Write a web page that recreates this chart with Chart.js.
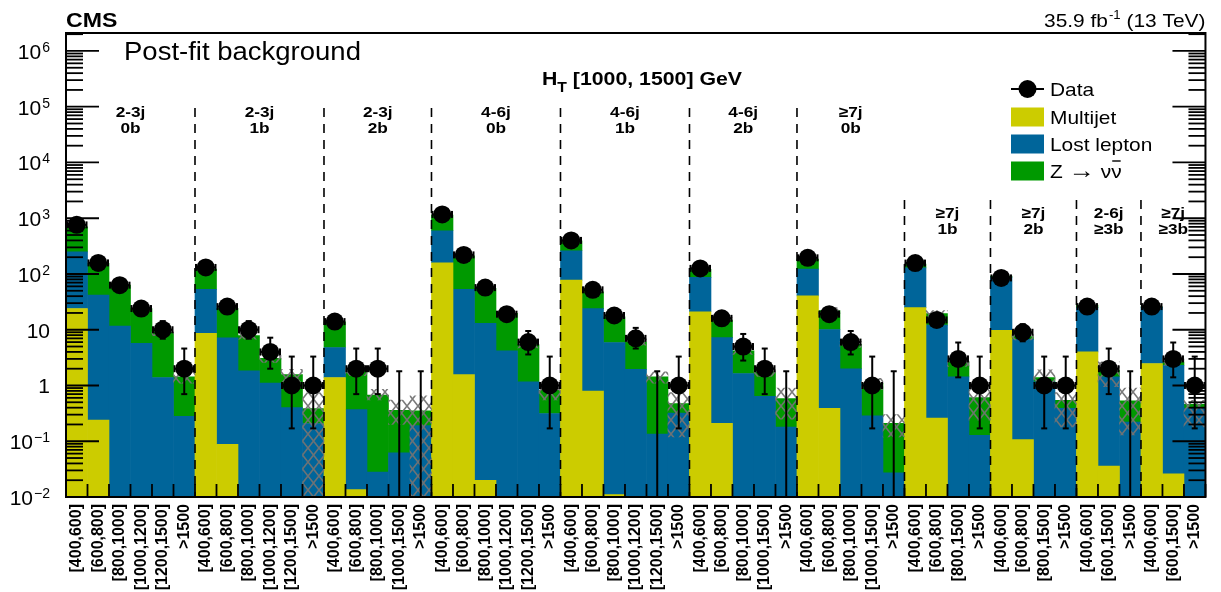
<!DOCTYPE html>
<html>
<head>
<meta charset="utf-8">
<script src="https://cdn.jsdelivr.net/npm/chart.js@4.4.1/dist/chart.umd.min.js"></script>
<style>
  html, body { margin: 0; padding: 0; background: #fff; }
  #wrap { width: 1221px; height: 592px; }
</style>
</head>
<body>
<div id="wrap"><canvas id="chart" width="1221" height="592"></canvas></div>
<script>
/**
 * Post-fit background, HT [1000, 1500] GeV
 * Stacked log-scale histogram with data points and uncertainty band.
 */

// Search bins (Njet/Nb regions, MHT ranges)
const binLabels = [
  '[400,600]', '[600,800]', '[800,1000]', '[1000,1200]', '[1200,1500]', '>1500',
  '[400,600]', '[600,800]', '[800,1000]', '[1000,1200]', '[1200,1500]', '>1500',
  '[400,600]', '[600,800]', '[800,1000]', '[1000,1500]', '>1500',
  '[400,600]', '[600,800]', '[800,1000]', '[1000,1200]', '[1200,1500]', '>1500',
  '[400,600]', '[600,800]', '[800,1000]', '[1000,1200]', '[1200,1500]', '>1500',
  '[400,600]', '[600,800]', '[800,1000]', '[1000,1500]', '>1500',
  '[400,600]', '[600,800]', '[800,1000]', '[1000,1500]', '>1500',
  '[400,600]', '[600,800]', '[800,1500]', '>1500',
  '[400,600]', '[600,800]', '[800,1500]', '>1500',
  '[400,600]', '[600,1500]', '>1500',
  '[400,600]', '[600,1500]', '>1500'
];

const regionNames = [
  ['2-3j', '0b'], ['2-3j', '1b'], ['2-3j', '2b'],
  ['4-6j', '0b'], ['4-6j', '1b'], ['4-6j', '2b'],
  ['\u22657j', '0b'], ['\u22657j', '1b'], ['\u22657j', '2b'],
  ['2-6j', '\u22653b'], ['\u22657j', '\u22653b']
];
const regionSizes = [6, 6, 5, 6, 6, 5, 5, 4, 4, 3, 3];
const regionLowRow = [false, false, false, false, false, false, false, true, true, true, true];

const multijet = [
  24, 0.24, 0, 0, 0, 0,
  8.6, 0.088, 0, 0, 0, 0,
  1.39, 0.0136, 0, 0, 0,
  159, 1.57, 0.02, 0, 0, 0,
  77.6, 0.79, 0.011, 0, 0, 0,
  21, 0.21, 0, 0, 0,
  40.6, 0.39, 0, 0, 0,
  25, 0.26, 0, 0,
  9.8, 0.107, 0, 0,
  4.0, 0.036, 0,
  2.48, 0.026, 0
];

const lostLepton = [
  226, 41.6, 11.6, 5.7, 1.39, 0.28,
  44.3, 7.1, 1.83, 1.11, 0.40, 0.208,
  3.41, 0.356, 0.028, 0.062, 0.19,
  438, 51.3, 13, 4.2, 1.16, 0.314,
  183, 23.2, 5.9, 1.94, 0.134, 0.32,
  66, 7.0, 1.64, 0.64, 0.18,
  81.4, 9.7, 2.0, 0.285, 0.027,
  104, 11.8, 1.43, 0.128,
  78.2, 6.6, 1.16, 0.39,
  21, 1.4, 0.22,
  23, 2.28, 0.39
];

const zInvisible = [
  453, 113, 51.4, 18.3, 7.6, 1.15,
  69, 16.9, 6.0, 1.95, 1.17, 0.178,
  9.1, 1.51, 0.642, 0.298, 0.16,
  543, 159, 42, 15.4, 4.24, 0.506,
  133, 24, 11.1, 4.12, 1.3, 0.155,
  34, 7.7, 2.56, 1.11, 0.40,
  63, 11.9, 3.5, 0.805, 0.183,
  22, 7.5, 1.22, 0.48,
  4, 0.8, 0.23, 0.15,
  2.7, 0.45, 0.31,
  0.3, 0.34, 0.07
];

const dataCounts = [
  760, 158, 63, 24, 10, 2,
  131, 26, 10, 4, 1, 1,
  14, 2, 2, 0, 0,
  1170, 220, 57, 19, 6, 1,
  400, 52, 18, 7, 0, 1,
  126, 16, 5, 2, 0,
  195, 19, 6, 1, 0,
  157, 15, 3, 1,
  85, 9, 1, 1,
  26, 2, 0,
  26, 3, 1
];

// Poisson error bar ends (null where hidden by the marker)
const dataErrLow = [
  null, null, null, null, 6.9, 0.7,
  null, null, 6.9, 2.0, 0.17, 0.17,
  null, 0.7, 0.7, 0, 0,
  null, null, null, null, 3.6, 0.17,
  null, null, null, 4.6, 0, 0.17,
  null, null, 2.8, 0.7, 0,
  null, null, 3.6, 0.17, 0,
  null, null, 1.4, 0.17,
  null, 6.2, 0.17, 0.17,
  null, 0.7, 0,
  null, 1.4, 0.17
];
const dataErrHigh = [
  null, null, null, null, 14.3, 4.6,
  null, null, 14.3, 7.2, 3.3, 3.3,
  null, 4.6, 4.6, 1.8, 1.8,
  null, null, null, null, 9.5, 3.3,
  null, null, null, 10.8, 1.8, 3.3,
  null, null, 8.4, 4.6, 1.8,
  null, null, 9.5, 3.3, 1.8,
  null, null, 5.9, 3.3,
  null, 12.6, 3.3, 3.3,
  null, 4.6, 1.8,
  null, 5.9, 3.3
];

// Background uncertainty band (only where it shows)
const bandLow = [
  null, null, null, null, 7.8, 1.1,
  null, null, 6.8, 2.6, 1.15, 0.01,
  null, 1.5, 0.55, 0.2, 0.01,
  null, null, null, null, 4.7, 0.55,
  null, null, null, 5.3, 1.1, 0.12,
  null, 13.5, 3.6, 1.45, 0.25,
  null, 19.5, 4.8, 0.85, 0.12,
  null, 17, 2.2, 0.24,
  null, 6.6, 1.0, 0.18,
  null, 0.95, 0.13,
  null, 2.3, 0.18
];
const bandHigh = [
  null, null, null, null, 10.2, 1.8,
  null, null, 8.8, 3.5, 1.95, 0.75,
  null, 2.3, 0.85, 0.55, 0.65,
  null, null, null, null, 6.1, 1.15,
  null, null, null, 6.9, 1.75, 0.75,
  null, 16.5, 4.8, 2.1, 0.9,
  null, 25, 6.2, 1.35, 0.3,
  null, 22, 3.2, 0.88,
  null, 8.5, 1.9, 0.75,
  null, 2.65, 0.9,
  null, 3.0, 0.54
];

const yTickValues = [1e-2, 1e-1, 1, 10, 1e2, 1e3, 1e4, 1e5, 1e6];
const yTickLabels = [
  ['10', '\u22122'], ['10', '\u22121'], ['1', ''], ['10', ''],
  ['10', '2'], ['10', '3'], ['10', '4'], ['10', '5'], ['10', '6']
];

const FONT = '"Liberation Sans", Arial, Helvetica, sans-serif';
const COLORS = { multijet: '#cccc00', lostLepton: '#00659a', zinv: '#009900' };

function makeHatch() {
  const c = document.createElement('canvas');
  c.width = 11; c.height = 14;
  const g = c.getContext('2d');
  g.strokeStyle = 'rgba(115,115,115,0.95)';
  g.lineWidth = 1.6;
  g.beginPath();
  g.moveTo(-1, -1.3); g.lineTo(12, 15.3);
  g.moveTo(12, -1.3); g.lineTo(-1, 15.3);
  g.stroke();
  return g.createPattern(c, 'repeat');
}

// Text with a slight horizontal stretch, like the ROOT output
function stretchedText(ctx, txt, x, y, font, align, sx) {
  ctx.save();
  ctx.font = font;
  ctx.textBaseline = 'alphabetic';
  ctx.textAlign = 'left';
  const w = ctx.measureText(txt).width * sx;
  let x0 = x;
  if (align === 'center') x0 = x - w / 2;
  else if (align === 'right') x0 = x - w;
  ctx.translate(x0, y);
  ctx.scale(sx, 1);
  ctx.fillText(txt, 0, 0);
  ctx.restore();
  return w;
}

function binEdge(chart, i) {
  const xs = chart.scales.x;
  const area = chart.chartArea;
  if (i <= 0) return area.left;
  if (i >= binLabels.length) return area.right;
  return (xs.getPixelForValue(i - 1) + xs.getPixelForValue(i)) / 2;
}

function line(ctx, x1, y1, x2, y2) {
  ctx.beginPath();
  ctx.moveTo(x1, y1);
  ctx.lineTo(x2, y2);
  ctx.stroke();
}

const DATA_INDEX = 4;

// Error bars under the data markers
const errorBarPlugin = {
  id: 'errorBars',
  beforeDatasetDraw(chart, args) {
    if (args.index !== DATA_INDEX) return;
    const { ctx, chartArea } = chart;
    const xs = chart.scales.x, ys = chart.scales.y;
    ctx.save();
    ctx.strokeStyle = '#000';
    ctx.lineWidth = 2;
    for (let i = 0; i < binLabels.length; i++) {
      const cx = xs.getPixelForValue(i);
      const l = binEdge(chart, i), r = binEdge(chart, i + 1);
      if (dataCounts[i] > 0) {
        const cy = ys.getPixelForValue(dataCounts[i]);
        line(ctx, l + 1, cy, r - 1, cy);
        line(ctx, l + 1, cy - 3.5, l + 1, cy + 3.5);
        line(ctx, r - 1, cy - 3.5, r - 1, cy + 3.5);
      }
      if (dataErrHigh[i] !== null) {
        const yHi = ys.getPixelForValue(dataErrHigh[i]);
        const yLo = dataErrLow[i] > 0 ? ys.getPixelForValue(dataErrLow[i]) : chartArea.bottom;
        line(ctx, cx, yLo, cx, yHi);
        line(ctx, cx - 3, yHi, cx + 3, yHi);
        if (dataErrLow[i] > 0) line(ctx, cx - 3, yLo, cx + 3, yLo);
      }
    }
    ctx.restore();
  }
};

// Frame, ticks, labels, region separators, legend, headers
const decorPlugin = {
  id: 'decor',
  afterDraw(chart) {
    const { ctx, chartArea: a } = chart;
    const ys = chart.scales.y;
    ctx.save();
    ctx.strokeStyle = '#000';
    ctx.fillStyle = '#000';

    // y ticks, both sides
    ctx.lineWidth = 1.8;
    for (let d = -2; d <= 6; d++) {
      for (let k = 1; k <= 9; k++) {
        const v = k * Math.pow(10, d);
        if (v > ys.max) continue;
        const py = ys.getPixelForValue(v);
        const len = k === 1 ? 33 : 17;
        line(ctx, a.left, py, a.left + len, py);
        line(ctx, a.right, py, a.right - len, py);
      }
    }
    // x ticks at bin edges
    for (let i = 0; i <= binLabels.length; i++) {
      const px = binEdge(chart, i);
      line(ctx, px, a.bottom, px, a.bottom - 13);
    }

    // y labels with exponents
    yTickValues.forEach((v, i) => {
      const py = ys.getPixelForValue(v);
      const [base, exp] = yTickLabels[i];
      ctx.textBaseline = 'alphabetic';
      let xr = 50;
      if (exp) {
        ctx.font = '14px ' + FONT;
        ctx.textAlign = 'right';
        ctx.fillText(exp, xr, py + 1);
        xr -= ctx.measureText(exp).width + 1;
      }
      ctx.font = '21px ' + FONT;
      ctx.textAlign = 'right';
      ctx.fillText(base, xr, py + 8);
    });

    // region separators and names
    let start = 0;
    regionSizes.forEach((n, r) => {
      const l = binEdge(chart, start), rr = binEdge(chart, start + n);
      const low = regionLowRow[r];
      if (r > 0) {
        ctx.save();
        ctx.lineWidth = 1.6;
        ctx.setLineDash([9, 7]);
        line(ctx, l, low ? 200 : 108, l, a.bottom);
        ctx.restore();
      }
      const cx = (l + rr) / 2;
      const y1 = low ? 217.5 : 116.5;
      stretchedText(ctx, regionNames[r][0], cx, y1, 'bold 15px ' + FONT, 'center', 1.15);
      stretchedText(ctx, regionNames[r][1], cx, y1 + 16, 'bold 15px ' + FONT, 'center', 1.15);
      start += n;
    });

    // frame
    ctx.lineWidth = 2;
    ctx.strokeRect(a.left, a.top, a.right - a.left, a.bottom - a.top);

    // headers
    stretchedText(ctx, 'CMS', a.left, 27, 'bold 21px ' + FONT, 'left', 1.1);
    let x = a.right;
    x -= stretchedText(ctx, ' (13 TeV)', x, 27, '19px ' + FONT, 'right', 1.1);
    x -= stretchedText(ctx, '-1', x, 19, '12px ' + FONT, 'right', 1.1);
    stretchedText(ctx, '35.9 fb', x - 1, 27, '19px ' + FONT, 'right', 1.1);
    stretchedText(ctx, 'Post-fit background', 124, 60, '25px ' + FONT, 'left', 1.1);

    let tx = 542;
    tx += stretchedText(ctx, 'H', tx, 85, 'bold 19px ' + FONT, 'left', 1.12);
    tx += stretchedText(ctx, 'T', tx, 92, 'bold 14px ' + FONT, 'left', 1.12);
    stretchedText(ctx, ' [1000, 1500] GeV', tx, 85, 'bold 19px ' + FONT, 'left', 1.12);

    // legend
    ctx.lineWidth = 2;
    line(ctx, 1011, 89, 1044, 89);
    ctx.beginPath();
    ctx.arc(1027.5, 89, 9, 0, Math.PI * 2);
    ctx.fill();
    const items = [
      ['Multijet', COLORS.multijet, 117],
      ['Lost lepton', COLORS.lostLepton, 144],
      ['', COLORS.zinv, 171]
    ];
    const lf = '19px ' + FONT;
    stretchedText(ctx, 'Data', 1050, 96, lf, 'left', 1.1);
    items.forEach(([txt, col, cy]) => {
      ctx.fillStyle = col;
      ctx.fillRect(1011, cy - 9.5, 33, 19);
      ctx.fillStyle = '#000';
      if (txt) stretchedText(ctx, txt, 1050, cy + 7, lf, 'left', 1.1);
    });
    let zx = 1050;
    zx += stretchedText(ctx, 'Z ', zx, 178, lf, 'left', 1.1);
    zx += stretchedText(ctx, '\u2192', zx, 178, '24px ' + FONT, 'left', 1.1);
    zx += stretchedText(ctx, ' \u03bd', zx, 178, lf, 'left', 1.1);
    const nuW = stretchedText(ctx, '\u03bd', zx, 178, lf, 'left', 1.1);
    ctx.lineWidth = 1.4;
    line(ctx, zx + 1, 161, zx + nuW - 1, 161);

    ctx.restore();
  }
};

const xIndex = binLabels.map((_, i) => i);

new Chart(document.getElementById('chart'), {
  type: 'bar',
  data: {
    labels: binLabels,
    datasets: [
      { label: 'Multijet', data: multijet, backgroundColor: COLORS.multijet,
        borderWidth: 0, barPercentage: 1, categoryPercentage: 1, order: 2 },
      { label: 'Lost lepton', data: lostLepton, backgroundColor: COLORS.lostLepton,
        borderWidth: 0, barPercentage: 1, categoryPercentage: 1, order: 2 },
      { label: 'Z \u2192 \u03bd\u03bd', data: zInvisible, backgroundColor: COLORS.zinv,
        borderWidth: 0, barPercentage: 1, categoryPercentage: 1, order: 2 },
      { label: 'Uncertainty', stack: 'band', order: 1, grouped: false,
        data: xIndex.map(i => bandLow[i] === null ? null : [bandLow[i], bandHigh[i]]),
        backgroundColor: makeHatch(), borderWidth: 0, barPercentage: 1, categoryPercentage: 1 },
      { type: 'line', label: 'Data', order: 0, showLine: false,
        data: dataCounts.map(v => (v > 0 ? v : null)),
        pointRadius: 9, pointBackgroundColor: '#000', pointBorderWidth: 0, clip: false }
    ]
  },
  options: {
    responsive: false,
    animation: false,
    events: [],
    layout: { padding: { top: 33, right: 4, left: 0, bottom: 0 } },
    plugins: { legend: { display: false }, tooltip: { enabled: false } },
    scales: {
      x: {
        type: 'category', stacked: true, offset: true,
        grid: { display: false, drawTicks: false }, border: { display: false },
        ticks: {
          autoSkip: false, maxRotation: 90, minRotation: 90, padding: 7, color: '#000',
          font: { family: FONT, size: 16, weight: 'bold' }
        },
        afterFit: s => { s.height = 95; }
      },
      y: {
        type: 'logarithmic', stacked: true, min: 0.01, max: 2.1e6,
        grid: { display: false, drawTicks: false }, border: { display: false },
        ticks: { display: false },
        afterFit: s => { s.width = 66; }
      }
    }
  },
  plugins: [errorBarPlugin, decorPlugin]
});
</script>
</body>
</html>
